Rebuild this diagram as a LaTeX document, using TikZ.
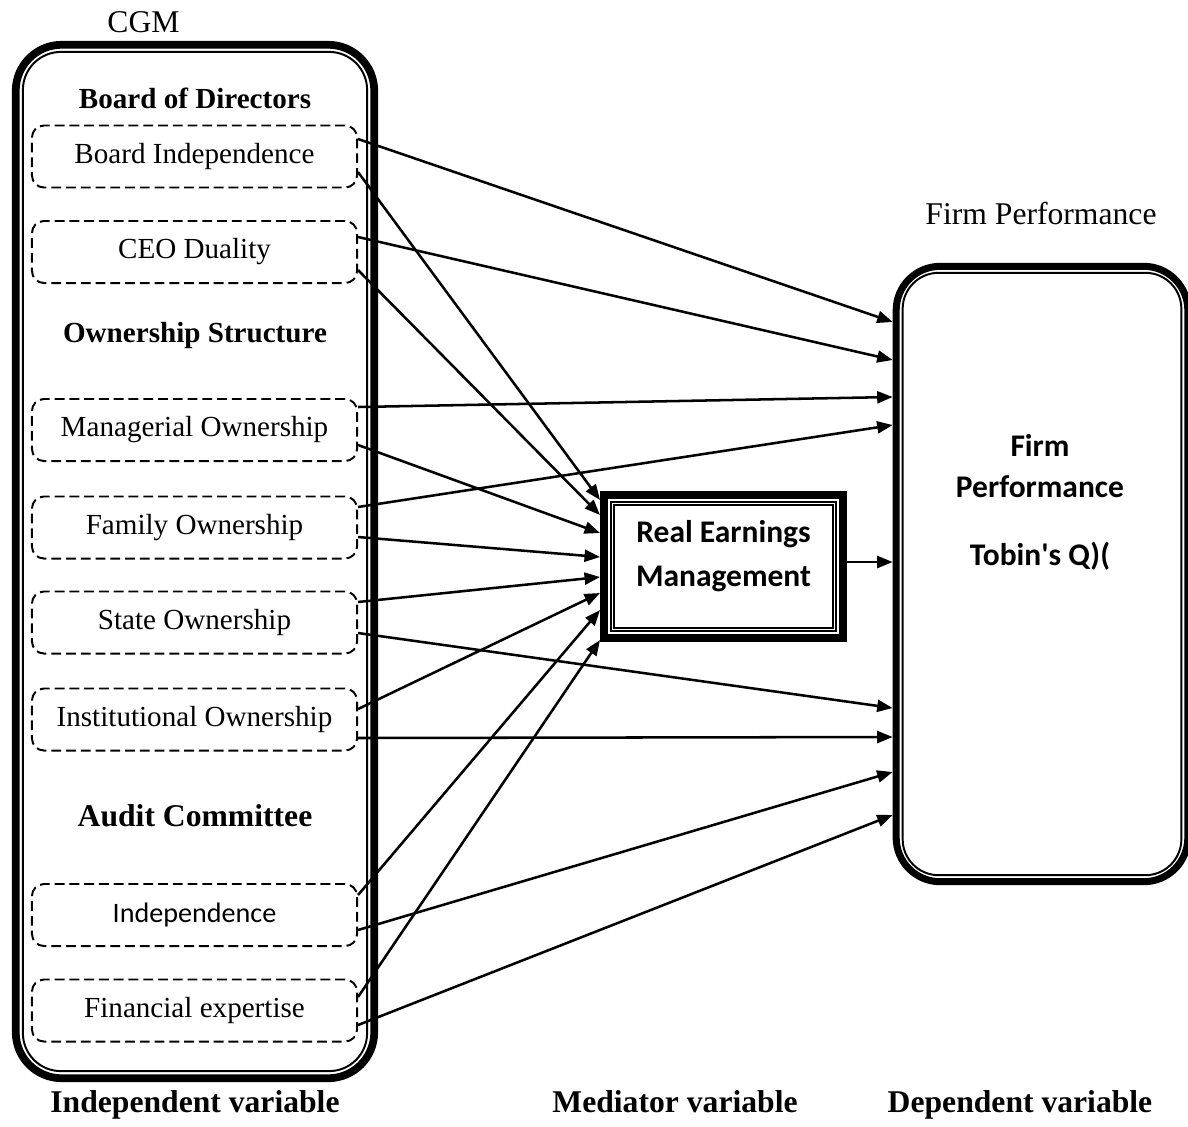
\documentclass[tikz,border=0pt]{standalone}
\usepackage{fontspec}
\setmainfont{Liberation Serif}
\newfontfamily\calibfont{Carlito}
\usepackage{xcolor}
\usepackage{tikz}
\usetikzlibrary{arrows.meta,calc}
\definecolor{blackmain}{HTML}{000000}
\tikzset{every node/.append style={font=\fontsize{20.7}{24}\selectfont}}
\tikzset{
  cgmframe/.style={draw=blackmain,line width=5.5pt,rounded corners=1.15cm,
    minimum width=8.96cm,minimum height=25.83cm},
  fpframe/.style={draw=blackmain,line width=5pt,rounded corners=1.1cm,
    minimum width=7.29cm,minimum height=15.38cm},
  remframe/.style={draw=blackmain,line width=5.5pt,
    minimum width=5.98cm,minimum height=3.58cm},
  dashitem/.style={draw=blackmain,line width=1.4pt,dash pattern=on 7pt off 3.5pt,
    rounded corners=0.3cm,minimum width=8.125cm,minimum height=1.55cm,inner sep=0pt},
  grouptitle/.style={font=\fontsize{20.7}{24}\selectfont\bfseries},
  headtitle/.style={font=\fontsize{22.5}{26}\selectfont},
  foottitle/.style={font=\fontsize{22.5}{26}\selectfont\bfseries,anchor=base},
  sansbold/.style={font=\fontsize{22.4}{26}\selectfont\calibfont\bfseries},
  link/.style={blackmain,line width=1.8pt,-{Triangle[length=11pt,width=8.5pt]}}
}

\begin{document}
\begin{tikzpicture}[x=0.025cm,y=-0.025cm]
  \useasboundingbox (0,0) rectangle (1188,1126);
  % CGM block
  \node[cgmframe] (cgm) at (195,561.5) {};
  \draw[blackmain,line width=1.4pt,rounded corners=0.95cm]
    ($(cgm.north west)+(11,11)$) rectangle ($(cgm.south east)+(-11,-11)$);
  \node[headtitle] (cgmtitle) at (143.5,22) {CGM};
  \node[grouptitle] (board) at (195,98) {Board of Directors};
  \node[grouptitle] (owner) at (195,335) {Ownership Structure};
  \node[font=\fontsize{22.5}{26}\selectfont\bfseries] (audit) at (195,816) {Audit Committee};
  \node[dashitem] (bi) at (194.5,156.5) {Board Independence};
  \node[dashitem] (ceo) at (194.5,252) {CEO Duality};
  \node[dashitem] (man) at (194.5,430) {Managerial Ownership};
  \node[dashitem] (fam) at (194.5,527.5) {Family Ownership};
  \node[dashitem] (state) at (194.5,622.5) {State Ownership};
  \node[dashitem] (inst) at (194.5,719.5) {Institutional Ownership};
  \node[dashitem,font=\fontsize{20}{24}\selectfont\calibfont] (ind) at (194.5,915) {Independence};
  \node[dashitem] (fin) at (194.5,1010.5) {Financial expertise};
  % mediator
  \node[remframe] (rem) at (723.5,566.5) {};
  \draw[blackmain,line width=1.4pt]
    ($(rem.north west)+(11,11)$) rectangle ($(rem.south east)+(-11,-11)$);
  \draw[blackmain,line width=0.8pt]
    ($(rem.north west)+(14,14)$) rectangle ($(rem.south east)+(-14,-14)$);
  \node[sansbold,align=center] (remtext) at (723.5,556) {Real Earnings\\[5pt]Management};
  % dependent
  \node[fpframe] (fp) at (1042,574) {};
  \draw[blackmain,line width=1.4pt,rounded corners=0.9cm]
    ($(fp.north west)+(10,10)$) rectangle ($(fp.south east)+(-10,-10)$);
  \node[headtitle] (fptitle) at (1041,214) {Firm Performance};
  \node[sansbold] (fpname) at (1040,445) {Firm};
  \node[sansbold] (fpname2) at (1040,487) {Performance};
  \node[sansbold] (fpq) at (1040,556) {Tobin\textquotesingle s Q)(};
  % connectors
  \foreach \src/\dy/\ty in {bi/-17.5/-252, ceo/-15/-214, man/-23/-177, fam/-20.5/-149,
      state/10.5/134, inst/18.5/163, ind/15/198, fin/14.5/241}
    \draw[link] ($(\src.east)+(0,\dy)$) -- ($(fp.west)+(0,\ty)$);
  \foreach \src/\dy/\ty in {bi/15.5/-66.5, ceo/18/-51.5, man/15/-33.5, fam/9.5/-9.5,
      state/-20.5/10.5, inst/-10.5/26.5, ind/-20/43.5, fin/-13.5/73.5}
    \draw[link] ($(\src.east)+(0,\dy)$) -- ($(rem.west)+(0,\ty)$);
  \draw[link] ($(rem.east)+(0,-4.5)$) -- ($(fp.west)+(0,-12)$);
  % footer
  \node[foottitle] (indep) at (195,1112) {Independent variable};
  \node[foottitle] (medi) at (675,1112) {Mediator variable};
  \node[foottitle] (dep) at (1020,1112) {Dependent variable};
\end{tikzpicture}
\end{document}
